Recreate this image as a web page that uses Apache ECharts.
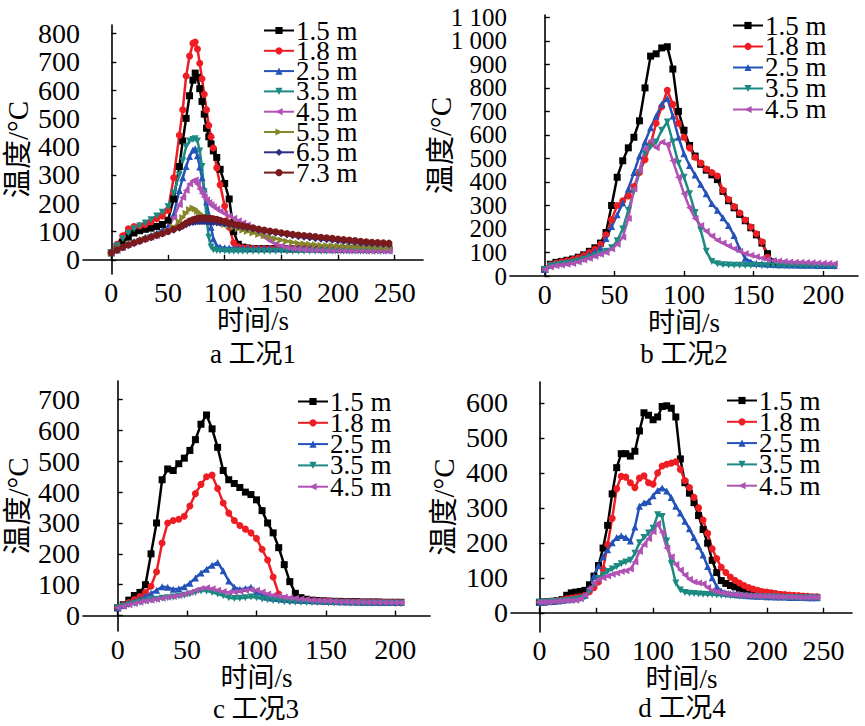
<!DOCTYPE html>
<html>
<head>
<meta charset="utf-8">
<script src="https://cdn.jsdelivr.net/npm/echarts/dist/echarts.min.js"></script>
<style>
html,body{margin:0;padding:0;background:#fff;}
#chart{width:865px;height:726px;}
</style>
</head>
<body>
<div id="chart"></div>
<script>
// ---------- data ----------
const names8 = ['1.5 m','1.8 m','2.5 m','3.5 m','4.5 m','5.5 m','6.5 m','7.3 m'];
const names5 = ['1.5 m','1.8 m','2.5 m','3.5 m','4.5 m'];
const captions = ['a 工况1','b 工况2','c 工况3','d 工况4'];
const xName = '时间/s';
const yName = '温度/°C';
const xTicksA = [0,50,100,150,200,250];
const xTicksB = [0,50,100,150,200];
const yTicksA = [0,100,200,300,400,500,600,700,800];
const yTicksB = [0,100,200,300,400,500,600,700,800,900,1000,1100];
const yLabelsB1 = [0,200,400,600,800,1000];
const yLabelsB2 = [100,300,500,700,900,1100];
const yTicksC = [0,100,200,300,400,500,600,700];
const yTicksD = [0,100,200,300,400,500,600];

// plot a (工况1)
const tA = [0,5,10,15,20,25,30,35,40,45,50,55,60,63,66,69,72,74,76,78,80,82,84,86,88,90,93,96,100,104,108,112,116,120,125,130,135,140,145,150,155,160,165,170,175,180,185,190,195,200,205,210,215,220,225,230,235,240,245];
const a15 = [25,45,62,80,95,103,108,112,118,125,140,215,330,420,500,580,635,660,645,605,560,515,465,435,410,385,362,320,270,215,100,55,45,42,40,40,40,40,40,40,39,39,39,39,39,39,38,38,38,38,38,38,38,38,38,38,38,38,38];
const a18 = [25,55,85,110,118,120,125,135,145,155,175,290,440,530,650,720,765,770,745,695,640,585,530,475,435,395,325,265,190,115,60,46,43,42,41,40,40,40,40,40,40,40,40,40,40,40,40,40,40,40,40,40,40,40,40,40,40,40,40];
const a25 = [25,35,45,55,65,72,80,87,95,105,118,160,245,290,330,365,388,393,368,328,290,250,205,160,115,75,50,45,43,42,42,42,42,42,42,42,42,41,41,41,41,41,41,40,40,40,40,40,40,40,40,40,40,40,40,40,40,40,40];
const a35 = [25,50,75,95,110,120,130,142,155,168,188,235,300,350,400,420,425,428,420,385,330,240,150,80,45,36,33,32,31,30,30,30,30,30,30,30,30,30,30,30,30,30,30,30,30,30,30,30,30,30,30,30,30,30,30,30,30,30,30];
const a45 = [25,35,45,55,62,68,75,80,86,95,110,150,195,220,245,268,280,282,268,250,235,222,212,203,195,188,180,172,163,155,147,138,130,123,108,92,80,67,57,50,44,40,38,36,35,34,33,33,32,32,32,31,31,31,30,30,30,30,30];
const a55 = [25,35,45,53,60,67,74,80,87,93,102,115,135,150,165,178,183,180,172,165,158,153,149,145,141,138,134,130,125,120,115,110,105,100,95,90,85,80,75,70,66,62,59,57,55,53,52,51,50,49,48,47,46,46,45,45,44,44,43];
const a65 = [25,34,43,51,58,65,72,78,85,91,98,105,112,118,124,129,132,134,135,135,135,135,134,134,133,132,131,129,127,124,121,118,115,112,108,104,100,97,94,91,88,85,82,80,77,75,73,71,69,67,65,63,61,59,57,56,55,54,53];
const a73 = [25,35,45,53,60,67,74,80,87,93,100,108,115,122,130,137,142,144,146,147,148,148,148,147,146,145,143,140,136,131,127,123,120,117,113,109,105,102,99,96,93,90,88,86,84,82,80,78,76,74,72,70,68,66,64,62,61,60,59];

// plot b (工况2)
const tB = [0,4,8,12,16,20,24,28,32,36,40,44,48,52,56,60,64,68,72,76,80,84,88,92,96,100,104,108,112,116,120,124,128,132,136,140,144,148,152,156,160,164,168,172,176,180,184,188,192,196,200,204,208];
const b15 = [28,50,58,62,67,72,80,90,105,120,140,185,300,420,490,545,590,660,800,935,945,970,975,880,700,620,555,510,475,450,430,410,360,320,290,262,235,205,175,140,95,60,null,null,null,null,null,null,null,null,null,null,null];
const b18 = [28,48,55,60,65,70,77,87,100,115,135,175,240,300,320,340,380,440,495,560,650,720,790,730,650,590,545,505,480,455,440,425,365,325,295,268,238,208,180,145,80,null,null,null,null,null,null,null,null,null,null,null,null];
const b25 = [28,45,52,56,60,64,70,80,92,105,120,160,210,260,310,370,440,510,570,630,680,730,755,680,590,520,470,430,390,350,308,280,248,215,172,115,75,60,54,52,50,49,48,48,47,47,46,46,46,45,45,45,45];
const b35 = [28,42,47,50,53,57,63,70,78,86,95,105,120,150,200,280,360,440,520,550,570,620,655,570,480,420,350,270,195,105,62,52,48,47,46,46,45,45,45,44,44,44,43,43,43,42,42,42,41,41,41,40,40];
const b45 = [28,38,44,47,50,53,60,68,76,84,92,100,115,135,165,245,370,450,540,575,545,570,560,490,420,350,290,245,215,190,170,152,140,128,116,105,96,88,82,76,70,66,64,62,60,59,58,57,56,55,54,53,52];

// plot c (工况3)
const tC = [0,4,8,12,16,20,24,28,32,36,40,44,48,52,56,60,64,68,72,76,80,84,88,92,96,100,104,108,112,116,120,124,128,132,136,140,144,148,152,156,160,164,168,172,176,180,184,188,192,196,200,204];
const c15 = [25,35,50,65,75,100,200,300,440,475,470,492,510,535,570,620,650,605,545,470,440,428,415,400,392,375,340,300,268,220,165,110,72,58,53,50,49,48,47,46,46,45,45,45,44,44,44,44,43,43,43,43];
const c18 = [25,33,42,52,62,75,95,142,235,300,308,312,322,355,395,425,450,455,412,365,332,308,292,280,268,250,215,180,125,70,55,50,49,48,48,47,47,46,46,45,45,45,44,44,44,44,43,43,43,43,42,42];
const c25 = [25,33,40,47,55,63,72,82,93,92,85,87,93,105,122,138,150,163,172,145,112,92,85,88,92,78,66,60,57,55,53,52,51,50,49,48,47,47,46,46,45,45,45,44,44,44,44,43,43,43,43,43];
const c35 = [25,30,35,39,43,47,50,53,56,58,60,63,66,70,75,80,80,75,70,64,58,55,56,58,60,58,54,51,49,47,45,44,43,43,42,42,42,42,41,41,41,41,40,40,40,40,40,40,40,40,40,40];
const c45 = [25,30,35,39,43,47,50,53,56,59,62,65,70,75,82,88,90,87,82,78,75,76,79,82,84,82,76,70,66,63,60,58,56,54,52,50,49,48,47,46,45,45,44,44,44,43,43,43,42,42,42,42];

// plot d (工况4)
const tD = [0,4,8,12,16,20,24,28,32,36,40,44,48,52,56,60,64,68,72,76,80,84,88,92,96,100,104,108,112,116,120,124,128,132,136,140,144,148,152,156,160,164,168,172,176,180,184,188,192,196,200,204,208,212,216,220,224,228,232,236,240,244];
const d15 = [30,31,32,33,35,38,50,57,59,61,64,80,105,135,185,250,340,415,455,455,448,462,520,572,565,552,560,590,592,585,560,440,372,342,315,278,238,199,150,115,92,84,78,74,70,67,65,62,60,58,56,54,52,50,48,47,46,45,45,44,44,44];
const d18 = [30,31,32,33,35,37,40,42,44,46,50,60,72,88,125,195,270,355,390,388,372,358,385,392,372,368,400,420,425,428,432,410,378,358,330,300,265,227,183,155,130,115,102,93,85,78,72,68,64,61,59,57,55,53,52,51,50,49,48,47,46,46];
const d25 = [30,31,32,33,34,35,37,39,41,44,50,70,105,135,160,180,200,215,220,215,205,245,305,315,318,335,350,357,348,330,305,285,262,240,215,190,165,132,100,75,62,56,54,52,51,50,49,48,47,47,46,46,45,45,45,44,44,44,44,43,43,43];
const d35 = [30,30,31,32,33,34,35,36,38,40,45,60,80,98,108,118,125,132,140,145,150,170,200,215,228,242,280,275,205,140,85,65,58,56,55,54,53,52,52,51,50,50,49,48,48,47,47,46,46,46,45,45,45,44,44,44,44,43,43,43,42,42];
const d45 = [30,30,31,32,33,34,35,35,36,40,50,70,85,95,100,105,110,114,118,120,125,145,175,195,212,232,255,230,185,160,138,122,108,96,88,85,83,72,64,60,57,55,53,52,51,50,49,48,48,47,47,46,46,46,45,45,45,44,44,44,44,44];

// ---------- styles ----------
const F = "'Liberation Serif','Noto Sans CJK SC',serif";
const STY = {
  '1.5 m': {color:'#000000', symbol:'rect', rot:0},
  '1.8 m': {color:'#ee1d24', symbol:'circle', rot:0},
  '2.5 m': {color:'#2352b8', symbol:'triangle', rot:0},
  '3.5 m': {color:'#1c8a82', symbol:'triangle', rot:180},
  '4.5 m': {color:'#b052b4', symbol:'triangle', rot:90},
  '5.5 m': {color:'#86862a', symbol:'triangle', rot:-90},
  '6.5 m': {color:'#2b2e86', symbol:'diamond', rot:0},
  '7.3 m': {color:'#7a1a1c', symbol:'circle', rot:0}
};

function mk(name, times, vals, gi){
  const s = STY[name];
  const data = [];
  times.forEach((t,i)=>{ if(vals[i]!=null) data.push([t, vals[i]]); });
  return {
    name: name, type:'line', xAxisIndex: gi, yAxisIndex: gi, data: data,
    symbol: s.symbol, symbolRotate: s.rot, symbolSize: 7,
    itemStyle: {color: s.color},
    lineStyle: {color: s.color, width: 2.5},
    emphasis: {disabled: true}, animation: false
  };
}

const series = [];
[a15,a18,a25,a35,a45,a55,a65,a73].forEach((v,i)=>series.push(mk(names8[i], tA, v, 0)));
[b15,b18,b25,b35,b45].forEach((v,i)=>series.push(mk(names5[i], tB, v, 1)));
[c15,c18,c25,c35,c45].forEach((v,i)=>series.push(mk(names5[i], tC, v, 2)));
[d15,d18,d25,d35,d45].forEach((v,i)=>series.push(mk(names5[i], tD, v, 3)));

const grids = [
  {left:83, top:25, width:340, height:249},
  {left:510, top:15, width:348, height:261},
  {left:83, top:381, width:347, height:250},
  {left:511, top:382, width:341, height:250}
];
const xr = [[-25,275,xTicksA],[-25,225,xTicksB],[-25,225,xTicksB],[-25,275,xTicksA]];
// [min, max, ticks, labels, nameGap, labelFontSize]
const yr = [[-50,830,yTicksA,yTicksA,51,28],[0,1110,yTicksB,yLabelsB1,55,25],[-50,760,yTicksC,yTicksC,51,28],[-55,660,yTicksD,yTicksD,53,28]];

const fmt = v => v >= 1000 ? Math.floor(v/1000) + ' ' + String(v%1000).padStart(3,'0') : String(v);
const axLine = {show:true, lineStyle:{color:'#000', width:1.6}};
const xAxes = xr.map((r,i)=>({
  type:'value', gridIndex:i, min:r[0], max:r[1],
  axisLine: axLine,
  axisTick: {show:true, inside:true, length:5, customValues:r[2], lineStyle:{color:'#000', width:1.4}},
  axisLabel: {customValues:r[2], margin:4, fontSize:28, fontFamily:F, color:'#000',
    showMinLabel:true, showMaxLabel:true, hideOverlap:false},
  splitLine: {show:false},
  name: xName, nameLocation:'middle', nameGap:33, nameMoveOverlap:false,
  nameTextStyle: {fontSize:27, fontFamily:F, color:'#000'}
}));
const yAxes = yr.map((r,i)=>({
  type:'value', gridIndex:i, min:r[0], max:r[1],
  axisLine: axLine,
  axisTick: {show:true, inside:true, length:5, customValues:r[2], lineStyle:{color:'#000', width:1.4}},
  axisLabel: {customValues:r[3], margin:3, fontSize:r[5], fontFamily:F, color:'#000',
    showMinLabel:true, showMaxLabel:true, hideOverlap:false, formatter: fmt},
  splitLine: {show:false},
  name: yName, nameLocation:'middle', nameGap:r[4], nameRotate:90, nameMoveOverlap:false,
  nameTextStyle: {fontSize:29, fontFamily:F, color:'#000'}
}));
// second label layer for plot b (odd hundreds), same scale, no line/ticks
yAxes.push({
  type:'value', gridIndex:1, position:'left', min:0, max:1110,
  axisLine:{show:false}, axisTick:{show:false}, splitLine:{show:false},
  axisLabel:{customValues:yLabelsB2, margin:3, fontSize:25, fontFamily:F, color:'#000',
    showMinLabel:true, showMaxLabel:true, hideOverlap:false, formatter: fmt}
});

function lg(data, left, top, gap){
  return {
    data: data, orient:'vertical', left:left, top:top, itemGap:gap, padding:0,
    itemWidth:30, itemHeight:9, selectedMode:false,
    lineStyle:{width:2},
    textStyle:{fontSize:27, fontFamily:F, color:'#000', padding:[0,0,0,-3]}
  };
}

const capPos = [[253,354],[684,354],[256,709],[682,708]];
const graphic = captions.map((c,i)=>({
  type:'text', x:capPos[i][0], y:capPos[i][1], silent:true,
  style:{text:c, fontSize:27, fontFamily:F, fill:'#000', textAlign:'center', textVerticalAlign:'middle', verticalAlign:'middle'}
}));

const chart = echarts.init(document.getElementById('chart'), null, {renderer:'svg'});
chart.setOption({
  backgroundColor:'#fff',
  animation:false,
  grid: grids,
  xAxis: xAxes,
  yAxis: yAxes,
  legend: [lg(names8,263,17,-6.7), lg(names5,732,12,-6), lg(names5,297,388,-5.7), lg(names5,726,387,-5.7)],
  graphic: graphic,
  series: series
});
</script>
</body>
</html>
